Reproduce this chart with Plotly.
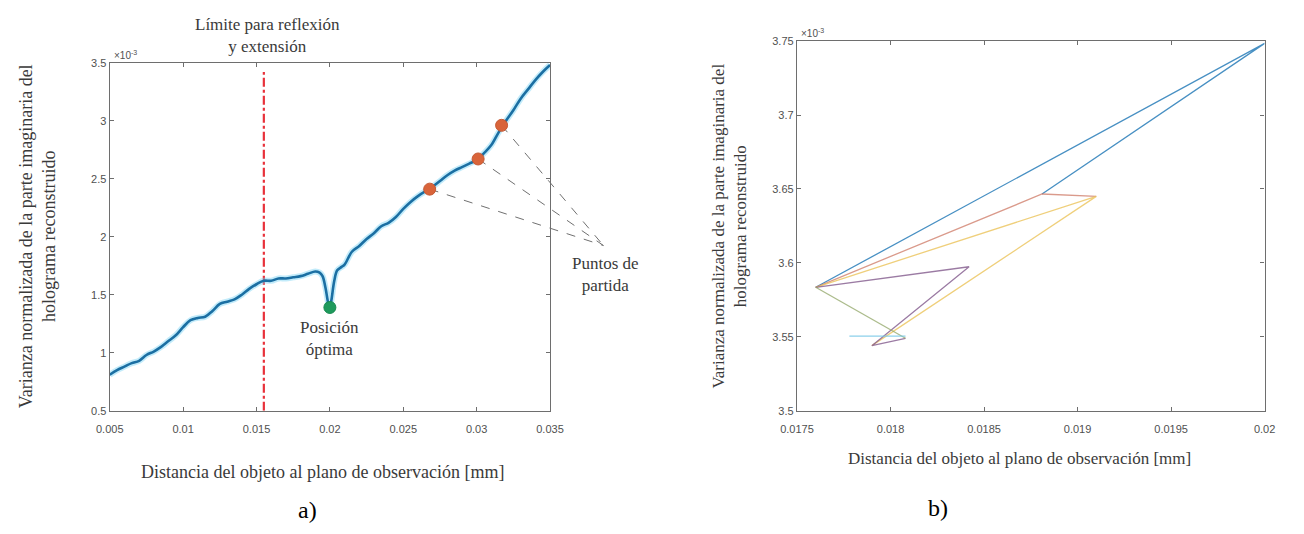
import plotly.graph_objects as go

# ---------------- data: panel a) ----------------
dist_a = [0.0050, 0.0055, 0.0060, 0.0065, 0.0070, 0.0075, 0.0080, 0.0085, 0.0090, 0.0095,
          0.0100, 0.0105, 0.0110, 0.0115, 0.0120, 0.0125, 0.0130, 0.0135, 0.0140, 0.0145,
          0.0150, 0.0155, 0.0160, 0.0165, 0.0170, 0.0175, 0.0180, 0.0185, 0.0190, 0.0193,
          0.0195, 0.0197, 0.0199, 0.0200, 0.0201, 0.0203, 0.0205, 0.0208, 0.0210, 0.0215,
          0.0220, 0.0225, 0.0230, 0.0235, 0.0240, 0.0245, 0.0250, 0.0255, 0.0260, 0.0265,
          0.0268, 0.0270, 0.0275, 0.0280, 0.0285, 0.0290, 0.0295, 0.0300, 0.0305, 0.0310,
          0.0315, 0.0320, 0.0325, 0.0330, 0.0335, 0.0340, 0.0345, 0.0350]
var_a = [0.81, 0.85, 0.88, 0.91, 0.93, 0.98, 1.01, 1.05, 1.10, 1.15,
         1.22, 1.28, 1.30, 1.31, 1.36, 1.42, 1.44, 1.46, 1.50, 1.55,
         1.59, 1.62, 1.62, 1.64, 1.64, 1.65, 1.66, 1.68, 1.70, 1.69,
         1.66, 1.56, 1.42, 1.39, 1.45, 1.62, 1.71, 1.74, 1.76, 1.87,
         1.92, 1.98, 2.03, 2.09, 2.12, 2.17, 2.24, 2.30, 2.35, 2.39,
         2.41, 2.43, 2.48, 2.53, 2.57, 2.60, 2.63, 2.66, 2.72, 2.79,
         2.90, 3.00, 3.09, 3.19, 3.27, 3.35, 3.42, 3.48]
start_x = [0.0268, 0.0301, 0.0317]
start_y = [2.41, 2.67, 2.96]
opt_x = [0.0200]
opt_y = [1.39]
limit_x = 0.0155
limit_y = [0.5, 3.42]
xticks_a = [0.005, 0.01, 0.015, 0.02, 0.025, 0.03, 0.035]
yticks_a = [0.5, 1, 1.5, 2, 2.5, 3, 3.5]

# ---------------- data: panel b) ----------------
blue_x = [0.01760, 0.02000, 0.01881]
blue_y = [3.5835, 3.7485, 3.6466]
orange_x = [0.01760, 0.01881, 0.01910]
orange_y = [3.5835, 3.6466, 3.6450]
yellow_x = [0.01760, 0.01910, 0.01790]
yellow_y = [3.5835, 3.6450, 3.5440]
purple_x = [0.01760, 0.01842, 0.01790, 0.01808]
purple_y = [3.5835, 3.5974, 3.5440, 3.5490]
green_x = [0.01760, 0.01808]
green_y = [3.5835, 3.5490]
lblue_x = [0.01778, 0.01808]
lblue_y = [3.5505, 3.5505]
xticks_b = [0.0175, 0.018, 0.0185, 0.019, 0.0195, 0.02]
yticks_b = [3.5, 3.55, 3.6, 3.65, 3.7, 3.75]

W, H = 1304, 534
dom_ax = [95 / W, 546 / W]
dom_ay = [(H - 414) / H, (H - 58) / H]
dom_bx = [799 / W, 1278 / W]
dom_by = [(H - 414) / H, (H - 36) / H]
rng_ax = [0.005, 0.035]
rng_ay = [0.5, 3.5]
rng_bx = [0.0175, 0.02]
rng_by = [3.5, 3.75]


def to_paper(dom, rng, v):
    return dom[0] + (v - rng[0]) / (rng[1] - rng[0]) * (dom[1] - dom[0])


SERIF = "Liberation Serif"
SANS = "Liberation Sans"
TXT = "#3a3a3a"

fig = go.Figure()

# panel a
fig.add_trace(go.Scatter(x=[limit_x, limit_x], y=limit_y, mode="lines",
                         line=dict(color="#e8313a", width=2.2, dash="dashdot"),
                         xaxis="x", yaxis="y", showlegend=False))
fig.add_trace(go.Scatter(x=dist_a, y=var_a, mode="lines",
                         line=dict(color="rgba(120,210,245,0.45)", width=6, shape="spline"),
                         xaxis="x", yaxis="y", showlegend=False))
fig.add_trace(go.Scatter(x=dist_a, y=var_a, mode="lines",
                         line=dict(color="#1b6fa3", width=2.6, shape="spline"),
                         xaxis="x", yaxis="y", showlegend=False))
fig.add_trace(go.Scatter(x=start_x, y=start_y, mode="markers",
                         marker=dict(color="#d9643a", size=12, line=dict(color="#c65a35", width=1)),
                         xaxis="x", yaxis="y", showlegend=False, cliponaxis=False))
fig.add_trace(go.Scatter(x=opt_x, y=opt_y, mode="markers",
                         marker=dict(color="#1f9a5c", size=12, line=dict(color="#178a50", width=1)),
                         xaxis="x", yaxis="y", showlegend=False, cliponaxis=False))

# panel b
for xs, ys, col in [(blue_x, blue_y, "rgba(40,125,185,0.85)"),
                    (orange_x, orange_y, "rgba(205,120,100,0.75)"),
                    (yellow_x, yellow_y, "rgba(235,195,90,0.8)"),
                    (purple_x, purple_y, "rgba(130,90,140,0.8)"),
                    (green_x, green_y, "rgba(150,170,110,0.8)"),
                    (lblue_x, lblue_y, "rgba(120,200,230,0.85)")]:
    fig.add_trace(go.Scatter(x=xs, y=ys, mode="lines", line=dict(color=col, width=1.3),
                             xaxis="x2", yaxis="y2", showlegend=False))

axis_common = dict(showline=True, linecolor="#6e6e6e", linewidth=1.3, mirror="ticks",
                   ticks="inside", ticklen=4, tickcolor="#6e6e6e", showgrid=False,
                   zeroline=False, tickfont=dict(family=SANS, size=11, color="#505050"))

fig.update_layout(
    width=W, height=H, margin=dict(l=0, r=0, t=0, b=0),
    paper_bgcolor="white", plot_bgcolor="white",
    xaxis=dict(domain=dom_ax, range=rng_ax, tickvals=xticks_a, ticklabelstandoff=8,
               ticktext=[str(v) for v in xticks_a], anchor="y", **axis_common),
    yaxis=dict(domain=dom_ay, range=rng_ay, tickvals=yticks_a,
               ticktext=[f"{v:g}" for v in yticks_a], anchor="x", **axis_common),
    xaxis2=dict(domain=dom_bx, range=rng_bx, tickvals=xticks_b, ticklabelstandoff=8,
                ticktext=[f"{v:g}" for v in xticks_b], anchor="y2", **axis_common),
    yaxis2=dict(domain=dom_by, range=rng_by, tickvals=yticks_b,
                ticktext=[f"{v:g}" for v in yticks_b], anchor="x2", **axis_common),
)

# dashed leader lines to "Puntos de partida"
conv_x, conv_y = 0.03864, 1.924
px_conv = to_paper(dom_ax, rng_ax, conv_x)
py_conv = to_paper(dom_ay, rng_ay, conv_y)
for sx, sy in zip(start_x, start_y):
    fig.add_shape(type="line", xref="paper", yref="paper",
                  x0=to_paper(dom_ax, rng_ax, sx), y0=to_paper(dom_ay, rng_ay, sy),
                  x1=px_conv, y1=py_conv,
                  line=dict(color="#707070", width=1, dash="dash"), layer="below")

ann = []


def text(x, y, s, size=17, family=SERIF, color=TXT, angle=0, xa="center", ya="middle"):
    ann.append(dict(x=x, y=y, xref="paper", yref="paper", text=s, showarrow=False,
                    font=dict(family=family, size=size, color=color), textangle=angle,
                    xanchor=xa, yanchor=ya))


def py(pix):
    return 1 - pix / H


def px(pix):
    return pix / W


# panel a texts
text(px(257), py(30), "Límite para reflexión<br>y extensión", size=17)
text(px(320), py(340), "Posición<br>óptima", size=17)
text(px(603), py(275), "Puntos de<br>partida", size=17)
text(px(313), py(477), "Distancia del objeto al plano de observación [mm]", size=18)
text(px(21), py(236), "Varianza normalizada de la parte imaginaria del<br>holograma reconstruido",
     size=18, angle=-90)
text(px(97), py(50), "×10<sup>-3</sup>", size=10, family=SANS, color="#505050", xa="left")
text(px(298), py(516), "a)", size=24, family=SERIF, color="#000000")

# panel b texts
text(px(1027), py(463), "Distancia del objeto al plano de observación [mm]", size=17)
text(px(730), py(225), "Varianza normalizada de la parte imaginaria del<br>holograma reconstruido",
     size=17, angle=-90)
text(px(801), py(28), "×10<sup>-3</sup>", size=10, family=SANS, color="#505050", xa="left")
text(px(943), py(514), "b)", size=24, family=SERIF, color="#000000")

fig.update_layout(annotations=ann)

fig.write_html("out.html")
